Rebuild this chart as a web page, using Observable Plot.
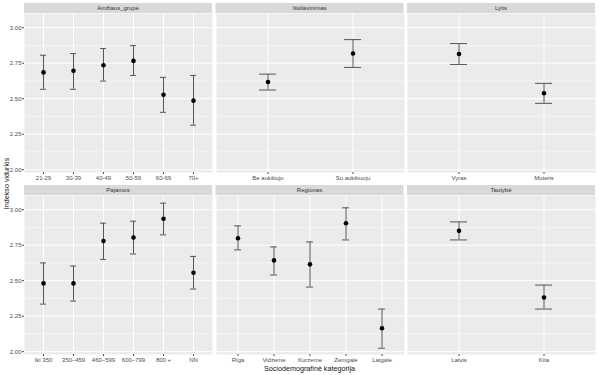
<!DOCTYPE html>
<html><head><meta charset="utf-8">
<script src="https://cdn.jsdelivr.net/npm/d3@7"></script>
<script src="https://cdn.jsdelivr.net/npm/@observablehq/plot@0.6"></script>
<style>
body{margin:0;background:#fff;}
#chart{position:relative;width:599px;height:375px;font-family:"Liberation Sans",Arial,sans-serif;background:#fff;}
#chart svg{position:absolute;overflow:visible;}
</style></head><body><div id="chart"></div>
<script>
// ---- data ----
const facetTitles = ["Amžiaus_grupė", "Išsilavinimas", "Lytis", "Pajamos", "Regionas", "Tautybė"];

const ageCats = ["21-29", "30-39", "40-49", "50-59", "60-69", "70+"];
const ageMean = [2.685, 2.696, 2.736, 2.766, 2.528, 2.486];
const ageLow  = [2.566, 2.566, 2.624, 2.664, 2.404, 2.313];
const ageHigh = [2.806, 2.818, 2.853, 2.874, 2.650, 2.664];

const eduCats = ["Be aukštojo", "Su aukštuoju"];
const eduMean = [2.617, 2.818];
const eduLow  = [2.561, 2.720];
const eduHigh = [2.673, 2.916];

const sexCats = ["Vyras", "Moteris"];
const sexMean = [2.815, 2.538];
const sexLow  = [2.741, 2.467];
const sexHigh = [2.888, 2.608];

const incCats = ["Iki 350", "350–459", "460–599", "600–799", "800 +", "NN"];
const incMean = [2.481, 2.481, 2.780, 2.804, 2.936, 2.556];
const incLow  = [2.335, 2.356, 2.650, 2.688, 2.823, 2.441];
const incHigh = [2.625, 2.603, 2.905, 2.919, 3.046, 2.671];

const regCats = ["Rīga", "Vidzeme", "Kurzeme", "Zemgale", "Latgale"];
const regMean = [2.799, 2.643, 2.615, 2.905, 2.165];
const regLow  = [2.717, 2.540, 2.455, 2.787, 2.024];
const regHigh = [2.886, 2.738, 2.773, 3.013, 2.300];

const natCats = ["Latvis", "Kita"];
const natMean = [2.851, 2.382];
const natLow  = [2.787, 2.300];
const natHigh = [2.914, 2.469];

const yTicks = [2.00, 2.25, 2.50, 2.75, 3.00];
const yMinor = [2.125, 2.375, 2.625, 2.875];
const yDomain = [1.98, 3.10];

const xTitle = "Sociodemografinė kategorija";
const yTitle = "Indekso vidurkis";

// ---- build ----
const groups = [
  [ageCats, ageMean, ageLow, ageHigh],
  [eduCats, eduMean, eduLow, eduHigh],
  [sexCats, sexMean, sexLow, sexHigh],
  [incCats, incMean, incLow, incHigh],
  [regCats, regMean, regLow, regHigh],
  [natCats, natMean, natLow, natHigh]
];

const chart = document.getElementById("chart");
const panelLeft = [24, 215.5, 407];
const panelW = 188;
const panelTop = [13, 195];
const panelH = 159;
const stripTop = [3, 185];
const stripH = 10;

// overlay for strips and titles
const ov = d3.create("svg").attr("width", 599).attr("height", 375)
  .style("left", "0px").style("top", "0px")
  .attr("font-family", "Liberation Sans, Arial, sans-serif");
groups.forEach((g, i) => {
  const col = i % 3, row = Math.floor(i / 3);
  ov.append("rect").attr("x", panelLeft[col]).attr("y", stripTop[row])
    .attr("width", panelW).attr("height", stripH).attr("fill", "#D9D9D9");
  ov.append("text").attr("x", panelLeft[col] + panelW / 2).attr("y", stripTop[row] + stripH / 2)
    .attr("text-anchor", "middle").attr("dominant-baseline", "central")
    .attr("font-size", 6).attr("fill", "#333333").text(facetTitles[i]);
});
ov.append("text").attr("x", 309.5).attr("y", 368.5).attr("text-anchor", "middle")
  .attr("dominant-baseline", "central").attr("font-size", 7.2).attr("fill", "#111").text(xTitle);
ov.append("text").attr("transform", "translate(6,183.5) rotate(-90)").attr("text-anchor", "middle")
  .attr("dominant-baseline", "central").attr("font-size", 7.2).attr("fill", "#111").text(yTitle);
chart.appendChild(ov.node());

groups.forEach((g, i) => {
  const [cats, mean, low, high] = g;
  const col = i % 3, row = Math.floor(i / 3);
  const data = cats.map((c, j) => ({cat: c, mean: mean[j], low: low[j], high: high[j]}));
  const ml = col === 0 ? 24 : 0;
  const marks = [
    Plot.frame({fill: "#EBEBEB", stroke: "none"}),
    Plot.ruleY(yMinor, {stroke: "white", strokeWidth: 0.5}),
    Plot.ruleY(yTicks, {stroke: "white", strokeWidth: 1}),
    Plot.ruleX(cats, {stroke: "white", strokeWidth: 1}),
    Plot.ruleX(data, {x: "cat", y1: "low", y2: "high", stroke: "#555555", strokeWidth: 1}),
    Plot.tickY(data, {x: "cat", y: "low", stroke: "#555555", strokeWidth: 1}),
    Plot.tickY(data, {x: "cat", y: "high", stroke: "#555555", strokeWidth: 1}),
    Plot.dot(data, {x: "cat", y: "mean", r: 2.3, fill: "black", stroke: "none"}),
    Plot.axisX({tickSize: 2, tickPadding: 1.5, fontSize: 6, color: "#4D4D4D", label: null})
  ];
  if (col === 0) {
    marks.push(Plot.axisY({ticks: yTicks, tickFormat: d3.format(".2f"), tickSize: 2, tickPadding: 1,
      fontSize: 6, color: "#4D4D4D", label: null}));
  }
  const p = Plot.plot({
    width: ml + panelW,
    height: panelH + 14,
    marginLeft: ml, marginRight: 0, marginTop: 0, marginBottom: 14,
    style: {fontFamily: "Liberation Sans, Arial, sans-serif", background: "transparent", overflow: "visible"},
    x: {type: "band", domain: cats, paddingInner: 0.8, paddingOuter: 0.5, axis: null},
    y: {domain: yDomain, axis: null},
    marks
  });
  p.style.left = (col === 0 ? 0 : panelLeft[col]) + "px";
  p.style.top = panelTop[row] + "px";
  p.style.position = "absolute";
  chart.appendChild(p);
});
</script></body></html>
